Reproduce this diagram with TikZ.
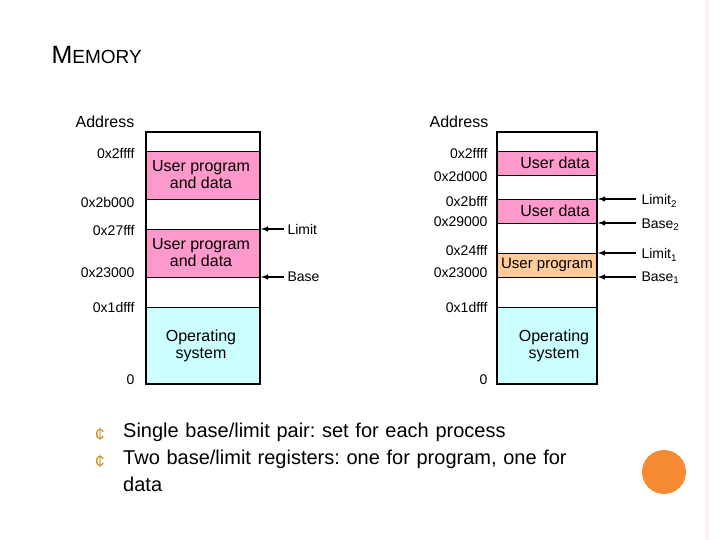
\documentclass[tikz,border=0pt]{standalone}
\usepackage{fontspec}
\setmainfont{Liberation Sans}
\usetikzlibrary{positioning,arrows}
\definecolor{pinkband}{RGB}{255,153,204}
\definecolor{osband}{RGB}{204,255,255}
\definecolor{progband}{RGB}{255,204,153}
\definecolor{dotorange}{RGB}{246,138,50}
\definecolor{bulletc}{RGB}{200,150,40}
\tikzset{
  band/.style={draw,line width=0.6pt,inner sep=0pt},
  addr/.style={anchor=east,font=\fontsize{14}{16}\selectfont},
  lbl/.style={anchor=west,font=\fontsize{14}{16}\selectfont},
  txt/.style={font=\fontsize{16}{18}\selectfont,align=center},
  ptr/.style={-latex,line width=1.4pt}
}
\frenchspacing
\begin{document}
\begin{tikzpicture}[x=1pt,y=-1pt]
    \useasboundingbox (0,0) rectangle (720,540);
    \fill[pink!30] (706,0) rectangle (709,540);

    \node[anchor=west,font=\fontsize{25}{28}\selectfont] (title) at (48,55) {M{\fontsize{19}{22}\selectfont EMORY}};

    % left memory
    \node[txt] (addrL) at (105,122) {Address};
    \fill[pinkband] (146,151) rectangle (260,199);
    \fill[pinkband] (146,229) rectangle (260,277);
    \fill[osband] (146,307) rectangle (260,384);
    \draw[line width=0.6pt] (146,151) -- (260,151) (146,199) -- (260,199)
      (146,229) -- (260,229) (146,277) -- (260,277) (146,307) -- (260,307);
    \draw[line width=2pt] (146,132) rectangle (260,384);
    \node[txt] (progL1) at (201,175) {User program\\[-1pt]and data};
    \node[txt] (progL2) at (201,253) {User program\\[-1pt]and data};
    \node[txt] (osL) at (201,346) {Operating\\[-1pt]system};
    \node[addr] (a1) at (138,154) {0x2ffff};
    \node[addr] (a2) at (138,202) {0x2b000};
    \node[addr] (a3) at (138,231) {0x27fff};
    \node[addr] (a4) at (138,273) {0x23000};
    \node[addr] (a5) at (138,307) {0x1dfff};
    \node[addr] (a6) at (138,380) {0};
    \coordinate (limL) at (261,229);
    \coordinate (baseL) at (261,277);
    \node[lbl] (limit) at (284,229) {Limit};
    \node[lbl] (base) at (284,277) {Base};
    \draw[ptr] (limit.west) -- (limL);
    \draw[ptr] (base.west) -- (baseL);

    % right memory
    \node[txt] (addrR) at (459,122) {Address};
    \fill[pinkband] (497,151) rectangle (597,175);
    \fill[pinkband] (497,199) rectangle (597,223);
    \fill[progband] (497,253) rectangle (597,277);
    \fill[osband] (497,307) rectangle (597,384);
    \draw[line width=0.6pt] (497,151) -- (597,151) (497,175) -- (597,175)
      (497,199) -- (597,199) (497,223) -- (597,223) (497,253) -- (597,253)
      (497,277) -- (597,277) (497,307) -- (597,307);
    \draw[line width=2pt] (497,132) rectangle (597,384);
    \node[txt] (dataR1) at (555,163) {User data};
    \node[txt] (dataR2) at (555,211) {User data};
    \node[txt,font=\fontsize{15}{17}\selectfont] (progR) at (547,265) {User program};
    \node[txt] (osR) at (554,346) {Operating\\[-1pt]system};
    \node[addr] (b1) at (491,154) {0x2ffff};
    \node[addr] (b2) at (491,176) {0x2d000};
    \node[addr] (b3) at (491,201) {0x2bfff};
    \node[addr] (b4) at (491,222) {0x29000};
    \node[addr] (b5) at (491,251) {0x24fff};
    \node[addr] (b6) at (491,273) {0x23000};
    \node[addr] (b7) at (491,307) {0x1dfff};
    \node[addr] (b8) at (491,380) {0};
    \coordinate (lim2) at (598,199);
    \coordinate (base2) at (598,223);
    \coordinate (lim1) at (598,253);
    \coordinate (base1) at (598,277);
    \node[lbl] (limit2) at (638,201) {Limit\textsubscript{2}};
    \node[lbl] (basetwo) at (638,225) {Base\textsubscript{2}};
    \node[lbl] (limit1) at (638,255) {Limit\textsubscript{1}};
    \node[lbl] (baseone) at (638,278) {Base\textsubscript{1}};
    \draw[ptr] (636,199) -- (lim2);
    \draw[ptr] (636,223) -- (base2);
    \draw[ptr] (636,253) -- (lim1);
    \draw[ptr] (636,277) -- (base1);

    % bullets
    \node[text=bulletc,font=\fontsize{18}{20}\selectfont] (d1) at (100,434) {¢};
    \node[text=bulletc,font=\fontsize{18}{20}\selectfont] (d2) at (100,461) {¢};
    \node[anchor=north west,text width=470pt,inner sep=0pt,font=\fontsize{20}{27}\selectfont] (bul) at (123,423)
      {Single base/limit pair: set for each process\\Two base/limit registers: one for program, one for data};
    \fill[dotorange] (664,472) circle (22);
\end{tikzpicture}
\end{document}
